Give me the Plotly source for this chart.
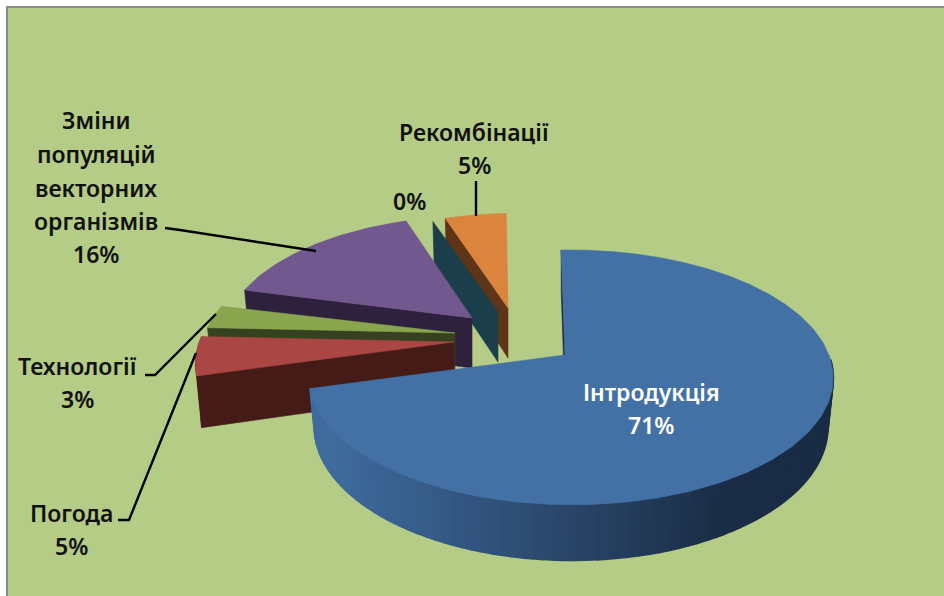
import numpy as np
import plotly.graph_objects as go

# ---- data ----
names = ["Інтродукція", "Погода", "Технології", "Зміни популяцій векторних організмів", "", "Рекомбінації"]
values = [71, 5, 3, 16, 0, 5]

# ---- geometry of the tilted, exploded pie ----
START = -1.0
APEX = [(565, 355), (454, 342), (455, 333), (472, 318), (498, 312), (508, 308)]
SCALE = [1.0, 1.01, 0.99, 0.97, 0.91, 0.90]
TURN = [0, 0, 0, 1.0, 0, 0.5]
DEPTH = [48, 50, 50, 50, 50, 50]
R, RY, K, M = 258.0, 123.5, 0.176, -0.023
FX, FY = 0.98, 1.05

TOP = ["#4371a6", "#aa4643", "#89a54e", "#71588f", "#1b3e4a", "#db843d"]
WALL = ["#1b2e48", "#451b18", "#36411f", "#2e213d", "#1b3e4a", "#5e3516"]
BG = "#b4cc86"
FONT = "Noto Sans"


def rim(theta, i):
    t = np.radians(theta + TURN[i])
    u, v = np.sin(t), np.cos(t)
    s = SCALE[i] / (1 + K * v + M * u)
    return R * u * s, -RY * v * s


def top_pts(theta, i):
    dx, dy = rim(theta, i)
    return APEX[i][0] + dx, APEX[i][1] + dy


def bot_pts(theta, i):
    dx, dy = rim(theta, i)
    return APEX[i][0] + FX * dx, APEX[i][1] + DEPTH[i] + FY * dy


fig = go.Figure()


def poly(xs, ys, color, lw=0.6):
    fig.add_trace(go.Scatter(x=list(xs), y=list(ys), mode="lines", fill="toself", fillcolor=color,
                             line=dict(color=color, width=lw), hoverinfo="skip", showlegend=False))


def arc(a, b, n=40):
    return np.linspace(a, b, max(n, 2))


def top_face(i, a, b):
    xs, ys = top_pts(arc(a, b), i)
    poly([APEX[i][0], *xs, APEX[i][0]], [APEX[i][1], *ys, APEX[i][1]], TOP[i])


def edge_wall(i, th, color=None):
    xa, ya = top_pts(th, i)
    xb, yb = bot_pts(th, i)
    poly([xa, APEX[i][0], APEX[i][0], xb, xa],
         [ya, APEX[i][1], APEX[i][1] + DEPTH[i], yb, ya], color or WALL[i])


def outer_wall(i, a, b):
    th = arc(a, b)
    xa, ya = top_pts(th, i)
    xb, yb = bot_pts(th, i)
    poly([*xa, *xb[::-1]], [*ya, *yb[::-1]], WALL[i])


def mix(c1, c2, f):
    f = min(max(f, 0), 1)
    a = [int(c1[j:j + 2], 16) for j in (1, 3, 5)]
    b = [int(c2[j:j + 2], 16) for j in (1, 3, 5)]
    return "rgb(%d,%d,%d)" % tuple(round(a[j] + (b[j] - a[j]) * f) for j in range(3))


# slice angles, clockwise from the top
ang = [START]
for val in values:
    ang.append(ang[-1] + val / sum(values) * 360)
span = [(ang[j], ang[j + 1]) for j in range(len(values))]
sp = []
for j, (a, b) in enumerate(span):
    sp.append((a - 360, b - 360) if j else (a, b))

# back-to-front painter's order
edge_wall(5, sp[5][0])
edge_wall(4, sp[4][0])
top_face(5, *sp[5])
edge_wall(3, sp[3][0])
top_face(3, *sp[3])
edge_wall(2, sp[2][0])
top_face(2, *sp[2])
outer_wall(1, *sp[1])
edge_wall(1, sp[1][0])
top_face(1, *sp[1])
edge_wall(0, sp[0][0], WALL[0])
seg = np.arange(92, sp[0][1], 2.0).tolist() + [sp[0][1]]
for a, b in zip(seg[:-1], seg[1:]):
    xa, ya = top_pts(np.array([a, b]), 0)
    xb, yb = bot_pts(np.array([a, b]), 0)
    xm = float(xa.mean())
    col = mix("#3f6b9e", "#1a2c45", (xm - 330) / (730 - 330))
    poly([*xa, *xb[::-1]], [*ya, *yb[::-1]], col, lw=1.6)
top_face(0, *sp[0])

# leader lines
leaders = [
    ([476, 476], [181, 216]),
    ([165, 180, 316], [228, 230, 251]),
    ([145, 155, 216], [375, 375, 314]),
    ([118, 129, 196], [520, 520, 353]),
]
for lx, ly in leaders:
    fig.add_trace(go.Scatter(x=lx, y=ly, mode="lines", line=dict(color="#000000", width=2.4),
                             hoverinfo="skip", showlegend=False))


def pct(i):
    return f"{values[i]}%"


lines = [
    ("Інтродукція", 651, 392, "#ffffff"), (pct(0), 651, 425, "#ffffff"),
    ("Зміни", 96, 120, "#111111"), ("популяцій", 96, 154, "#111111"), ("векторних", 96, 188, "#111111"),
    ("організмів", 96, 221, "#111111"), (pct(3), 96, 254, "#111111"),
    (names[5], 474, 132, "#111111"), (pct(5), 474, 165, "#111111"),
    (pct(4), 409, 201, "#111111"),
    (names[2], 77, 366, "#111111"), (pct(2), 77, 399, "#111111"),
    (names[1], 71, 513, "#111111"), (pct(1), 71, 546, "#111111"),
]
ann = [dict(x=x, y=y, text=t, showarrow=False, xanchor="center", yanchor="middle",
            font=dict(family=FONT, size=23, color=c, weight=600)) for t, x, y, c in lines]

fig.update_layout(
    width=944, height=596, margin=dict(l=0, r=0, t=0, b=0), autosize=False,
    paper_bgcolor="#ffffff", plot_bgcolor="#ffffff",
    xaxis=dict(range=[0, 944], visible=False, fixedrange=True),
    yaxis=dict(range=[596, 0], visible=False, fixedrange=True),
    annotations=ann,
    shapes=[dict(type="rect", x0=7, y0=7, x1=960, y1=610, layer="below",
                 fillcolor=BG, line=dict(color="#8c8c8c", width=2))],
)
fig.write_html("out.html", config={"displayModeBar": False},
               post_script="document.body.style.margin='0';document.body.style.overflow='hidden';")
